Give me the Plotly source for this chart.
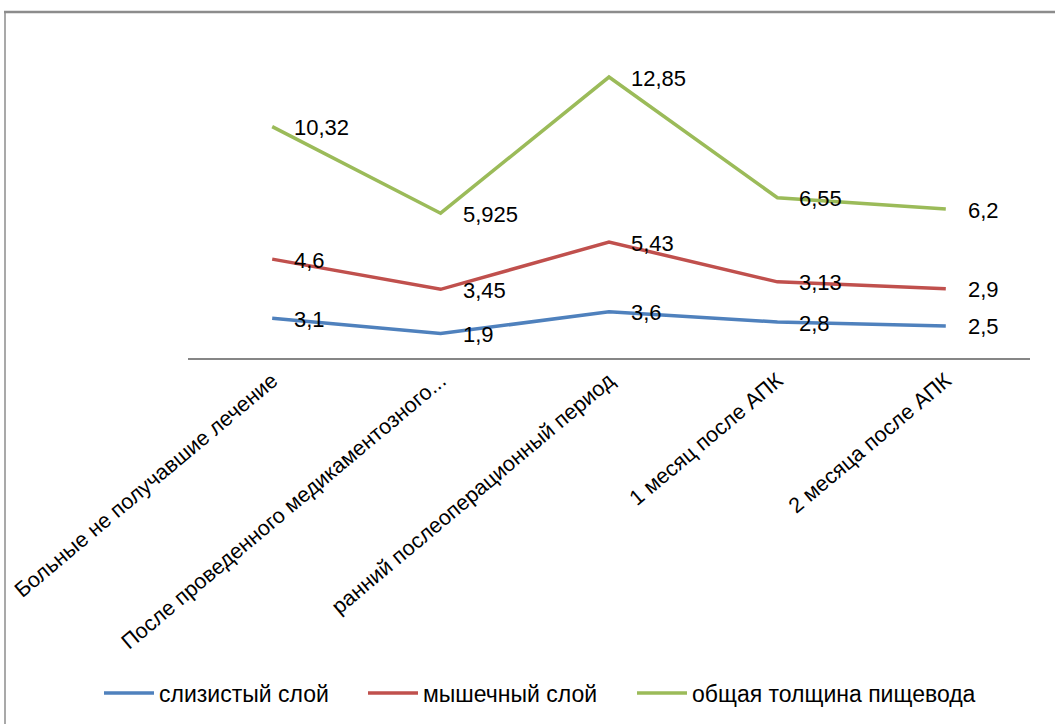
import numpy as np
import plotly.graph_objects as go

categories = [
    "Больные не получавшие лечение",
    "После проведенного медикаментозного...",
    "ранний послеоперационный период",
    "1 месяц после АПК",
    "2 месяца после АПК",
]
series_names = ["слизистый слой", "мышечный слой", "общая толщина пищевода"]
mucosa = [3.1, 1.9, 3.6, 2.8, 2.5]
muscle = [4.6, 3.45, 5.43, 3.13, 2.9]
total = [10.32, 5.925, 12.85, 6.55, 6.2]
colors = ["#4F81BD", "#C0504D", "#9BBB59"]

values = [mucosa, muscle, total]
stacked = np.cumsum(np.array(values), axis=0)

W, H = 1055, 724
L, R, T, B = 188, 25, 37, 366
pw, ph = W - L - R, H - T - B

FONT = "Liberation Sans"

def px_x(p):
    return (p - L) / pw

def px_y(p):
    return (H - B - p) / ph

legend_ids = ["legend", "legend2", "legend3"]
legend_left_px = [99, 363, 632]

fig = go.Figure()
for name, ys, col, lid in zip(series_names, stacked, colors, legend_ids):
    fig.add_trace(go.Scatter(
        x=categories, y=ys, name=name, mode="lines",
        line=dict(color=col, width=3.5), legend=lid,
    ))

annotations = []
for vals, ys in zip(values, stacked):
    for c, v, yy in zip(categories, vals, ys):
        annotations.append(dict(
            x=c, y=yy, xref="x", yref="y", text=str(v).replace(".", ","),
            showarrow=False, xanchor="left", yanchor="middle", xshift=20,
            yshift=-1,
            font=dict(family=FONT, size=22, color="#000000"),
        ))

shapes = [
    dict(type="line", xref="paper", yref="paper", x0=px_x(4), x1=px_x(1070),
         y0=px_y(12), y1=px_y(12), line=dict(color="#8c8c8c", width=2.5)),
    dict(type="line", xref="paper", yref="paper", x0=px_x(5), x1=px_x(5),
         y0=px_y(12), y1=px_y(740), line=dict(color="#8c8c8c", width=1.5)),
]

legend_layout = {}
for lid, lx in zip(legend_ids, legend_left_px):
    legend_layout[lid] = dict(
        orientation="h", x=px_x(lx), xanchor="left",
        y=px_y(693), yanchor="middle",
        font=dict(family=FONT, size=23, color="#000000"),
        itemwidth=50, bgcolor="rgba(0,0,0,0)",
    )

fig.update_layout(
    width=W, height=H,
    margin=dict(l=L, r=R, t=T, b=B, autoexpand=False),
    paper_bgcolor="white", plot_bgcolor="white",
    showlegend=True,
    annotations=annotations,
    shapes=shapes,
    xaxis=dict(
        type="category", range=[-0.5, 4.5], showgrid=False, zeroline=False,
        showline=True, linecolor="#868686", linewidth=1.5, ticks="",
        tickangle=-40, tickfont=dict(family=FONT, size=21.5, color="#000000"),
    ),
    yaxis=dict(range=[0, 25], visible=False, showgrid=False, zeroline=False),
    **legend_layout,
)

fig.write_html("out.html")
